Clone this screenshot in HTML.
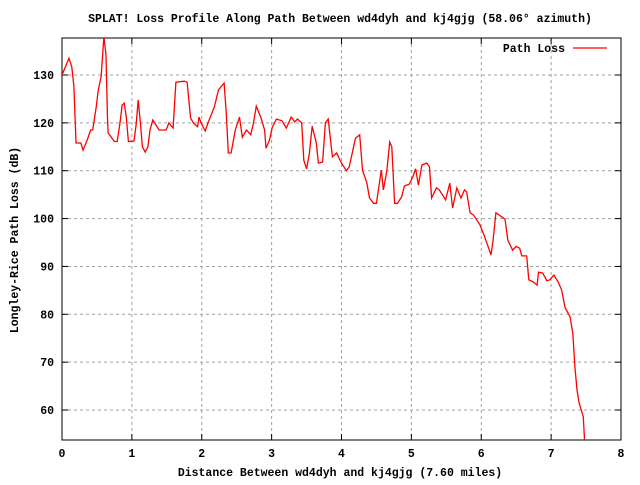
<!DOCTYPE html>
<html><head><meta charset="utf-8"><style>
body{margin:0;background:#fff}
svg text{font-family:"Liberation Mono",monospace;font-weight:bold;font-size:11.5px;fill:#000}
</style></head><body>
<svg width="640" height="480" viewBox="0 0 640 480" xmlns="http://www.w3.org/2000/svg">
<defs><clipPath id="pc"><rect x="62" y="38" width="559" height="402"/></clipPath></defs>
<rect x="0" y="0" width="640" height="480" fill="#fff"/>
<g id="grid"></g>
<g id="ticks"></g>
<rect x="62" y="38" width="559" height="402" fill="none" stroke="#000" stroke-width="1"/>
<text x="340" y="22" text-anchor="middle">SPLAT! Loss Profile Along Path Between wd4dyh and kj4gjg (58.06° azimuth)</text>
<text x="340" y="476" text-anchor="middle">Distance Between wd4dyh and kj4gjg (7.60 miles)</text>
<text transform="translate(18,240) rotate(-90)" text-anchor="middle">Longley-Rice Path Loss (dB)</text>
<g>
<text x="565" y="52" text-anchor="end">Path Loss</text>
<line x1="573" y1="48" x2="607" y2="48" stroke="#f00" stroke-width="1.3"/>
</g>
<polyline id="series" clip-path="url(#pc)" fill="none" stroke="#f00" stroke-width="1.3"/>
</svg>
<script>
const xTicks=[0,1,2,3,4,5,6,7,8];
const yTicks=[60,70,80,90,100,110,120,130];
const dist=[0,0.10,0.14,0.17,0.2,0.27,0.30,0.36,0.41,0.44,0.49,0.52,0.56,0.58,0.60,0.63,0.65,0.66,0.75,0.79,0.83,0.86,0.89,0.92,0.95,1.03,1.06,1.09,1.12,1.15,1.19,1.23,1.26,1.30,1.39,1.49,1.53,1.59,1.63,1.75,1.79,1.84,1.88,1.94,1.96,1.99,2.05,2.09,2.18,2.24,2.32,2.35,2.38,2.42,2.48,2.54,2.58,2.64,2.70,2.74,2.78,2.85,2.90,2.92,2.97,3.01,3.07,3.15,3.21,3.28,3.33,3.37,3.43,3.46,3.50,3.54,3.58,3.64,3.67,3.73,3.77,3.81,3.87,3.93,4.00,4.07,4.11,4.20,4.26,4.30,4.36,4.40,4.46,4.50,4.57,4.60,4.65,4.69,4.72,4.76,4.80,4.86,4.90,4.97,5.02,5.06,5.10,5.15,5.22,5.26,5.29,5.36,5.40,5.49,5.55,5.59,5.65,5.71,5.76,5.79,5.84,5.89,5.98,6.05,6.14,6.17,6.21,6.34,6.38,6.45,6.50,6.55,6.58,6.65,6.68,6.74,6.80,6.82,6.88,6.94,6.98,7.04,7.10,7.15,7.20,7.27,7.31,7.34,7.37,7.40,7.46,7.48];
const loss=[130,133.5,131.7,127.6,115.8,115.8,114.3,116.4,118.5,118.5,123.3,126.9,129.6,133.8,138,134.2,121.6,117.9,116.1,116.1,120,123.7,124.1,121.2,116.1,116.2,119.6,124.8,120.2,115,113.9,115,118.5,120.6,118.5,118.5,120,118.9,128.5,128.7,128.5,121,120,119.2,121.2,120,118.3,120,123.3,126.9,128.3,122.3,113.7,113.7,118.5,121.2,117,118.5,117.5,120,123.5,121,118.5,114.7,116.4,119.1,120.8,120.4,118.9,121.2,120.2,120.8,120,112.2,110.4,113.7,119.3,115.8,111.6,111.8,120,120.8,112.9,113.7,111.6,110,110.8,116.8,117.5,110.1,107.6,104.3,103.2,103.2,110.1,106,110.1,116,115,103.2,103.2,104.5,106.8,107.2,108.7,110.4,107,111.2,111.6,110.8,104.3,106.4,106,103.9,107.4,102.2,106.4,104.3,106,105.6,101.2,100.7,98.7,96.2,92.4,95.5,101.2,99.9,95.5,93.4,94.2,93.8,92.2,92.2,87.2,86.8,86.1,88.8,88.6,87,87.2,88.2,86.8,85.1,81.4,79.5,76.1,69,64.2,61.5,58.6,53];
const X=d=>62+d*69.875;
const Y=v=>75+(130-v)*4.786;
const NS="http://www.w3.org/2000/svg";
const grid=document.getElementById('grid'),ticks=document.getElementById('ticks');
function mk(tag,attrs,parent){const e=document.createElementNS(NS,tag);for(const k in attrs)e.setAttribute(k,attrs[k]);parent.appendChild(e);return e;}
xTicks.forEach(t=>{
 const x=X(t);
 if(t>0&&t<8){const g=mk('line',{x1:x,y1:38,x2:x,y2:440,stroke:'#a0a0a0','stroke-dasharray':'3,3'},grid);
 
 }
 const tk=mk('line',{x1:x,y1:440,x2:x,y2:434,stroke:'#000'},ticks);
 
 
 const tk2=mk('line',{x1:x,y1:38,x2:x,y2:44,stroke:'#000'},ticks);
 
 
 const l=mk('text',{x:x,y:457,'text-anchor':'middle'},ticks);l.textContent=t;
 
 
});
yTicks.forEach(t=>{
 const y=Y(t);
 const g=mk('line',{x1:62,y1:y,x2:621,y2:y,stroke:'#a0a0a0','stroke-dasharray':'3,3'},grid);
 
 
 const tk=mk('line',{x1:62,y1:y,x2:68,y2:y,stroke:'#000'},ticks);
 
 
 const tk2=mk('line',{x1:621,y1:y,x2:615,y2:y,stroke:'#000'},ticks);
 
 
 const l=mk('text',{x:54,y:y+4,'text-anchor':'end'},ticks);l.textContent=t;
 
 
});
document.getElementById('series').setAttribute('points',dist.map((d,i)=>X(d).toFixed(1)+','+Y(loss[i]).toFixed(1)).join(' '));
</script>
</body></html>
